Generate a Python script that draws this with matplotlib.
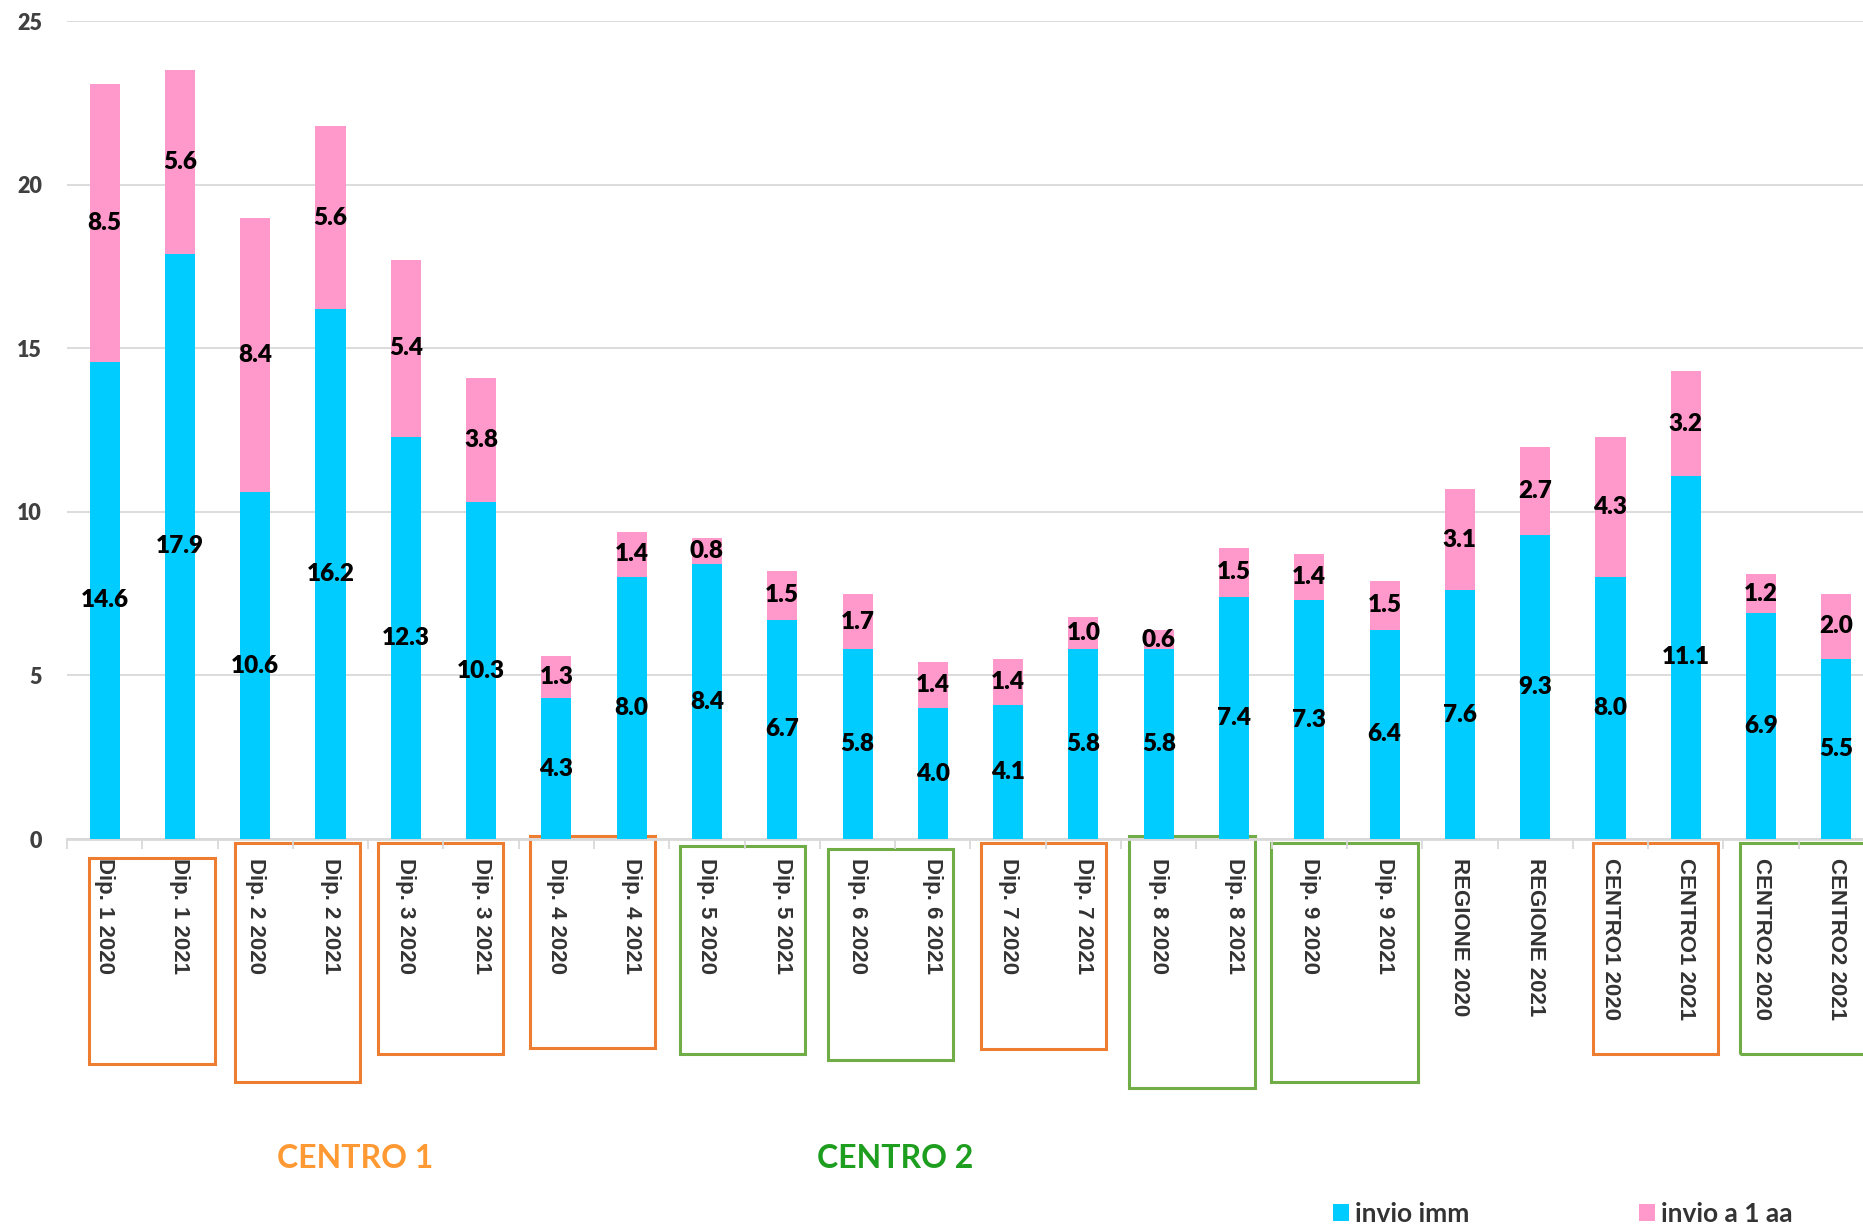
import matplotlib
matplotlib.use('Agg')

import matplotlib.pyplot as plt
import matplotlib.transforms as mtransforms
from matplotlib.patches import Rectangle
import numpy as np

# categories and values
categories = ['Dip. 1 2020', 'Dip. 1 2021', 'Dip. 2 2020', 'Dip. 2 2021',
              'Dip. 3 2020', 'Dip. 3 2021', 'Dip. 4 2020', 'Dip. 4 2021',
              'Dip. 5 2020', 'Dip. 5 2021', 'Dip. 6 2020', 'Dip. 6 2021',
              'Dip. 7 2020', 'Dip. 7 2021', 'Dip. 8 2020', 'Dip. 8 2021',
              'Dip. 9 2020', 'Dip. 9 2021', 'REGIONE 2020', 'REGIONE 2021',
              'CENTRO1 2020', 'CENTRO1 2021', 'CENTRO2 2020', 'CENTRO2 2021']
invio_imm = [14.6, 17.9, 10.6, 16.2, 12.3, 10.3, 4.3, 8.0, 8.4, 6.7, 5.8, 4.0,
             4.1, 5.8, 5.8, 7.4, 7.3, 6.4, 7.6, 9.3, 8.0, 11.1, 6.9, 5.5]
invio_1aa = [8.5, 5.6, 8.4, 5.6, 5.4, 3.8, 1.3, 1.4, 0.8, 1.5, 1.7, 1.4,
             1.4, 1.0, 0.6, 1.5, 1.4, 1.5, 3.1, 2.7, 4.3, 3.2, 1.2, 2.0]
yticks = [0, 5, 10, 15, 20, 25]

# group boxes under the axis: (x from, x to, top px, bottom px, group)
box_x0 = [-0.21, 1.73, 3.63, 5.65, 7.64, 9.61, 11.64, 13.60, 15.49, 19.77, 21.72]
box_x1 = [1.47, 3.39, 5.29, 7.31, 9.30, 11.27, 13.30, 15.28, 17.45, 21.43, 23.5]
box_top = [858, 843, 843, 836, 846, 849, 843, 836, 843, 843, 843]
box_bot = [1064, 1082, 1054, 1048, 1054, 1060, 1049, 1088, 1082, 1054, 1054]
box_grp = [1, 1, 1, 1, 2, 2, 1, 2, 2, 1, 2]

BLUE = '#00CCFF'
PINK = '#FF99CC'
ORANGE = '#ED7D31'
GREEN = '#70AD47'
GRID = '#D9D9D9'

W, H = 1863, 1226
fig = plt.figure(figsize=(W / 100, H / 100), dpi=100)
ax = fig.add_axes([67 / W, 1 - 839 / H, 1807 / W, (839 - 21.4) / H])

x = np.arange(len(categories))
b1 = ax.bar(x, invio_imm, width=0.4, color=BLUE, label='invio imm', zorder=3)
b2 = ax.bar(x, invio_1aa, width=0.4, bottom=invio_imm, color=PINK,
            label='invio a 1 aa', zorder=3)

lab_kw = dict(label_type='center', fmt='%.1f', fontsize=17.5,
              fontweight='heavy', family='Lato', color='black')
ax.bar_label(b1, **lab_kw)
ax.bar_label(b2, **lab_kw)

ax.set_xlim(-0.5, len(categories) - 0.5)
ax.set_ylim(0, 25)
ax.set_yticks(yticks)
ax.yaxis.grid(True, color=GRID, lw=1.3, zorder=0)
ax.tick_params(axis='y', length=0, pad=18, labelsize=15.5, labelcolor='#404040')
for t in ax.get_yticklabels():
    t.set_family('Lato')
    t.set_fontweight('heavy')

ax.set_xticks(x)
ax.set_xticklabels(categories, rotation=270, fontsize=16, fontweight='bold',
                   family='Liberation Sans', color='#333333', va='top', ha='center')
ax.set_xticks(np.arange(len(categories) + 1) - 0.5, minor=True)
ax.tick_params(axis='x', which='major', length=0, pad=14)
ax.tick_params(axis='x', which='minor', length=7, width=1.3, color=GRID)

for s in ['top', 'right', 'left']:
    ax.spines[s].set_visible(False)
ax.spines['bottom'].set_color(GRID)
ax.spines['bottom'].set_linewidth(2)

# boxes round the departments of each centre
trans = mtransforms.blended_transform_factory(ax.transData, fig.transFigure)
for x0, x1, yt, yb, g in zip(box_x0, box_x1, box_top, box_bot, box_grp):
    ax.add_patch(Rectangle((x0, 1 - yb / H), x1 - x0, (yb - yt) / H,
                           transform=trans, fill=False, lw=2.2,
                           edgecolor=ORANGE if g == 1 else GREEN, clip_on=False))

fig.text(355 / W, 1 - 1158 / H, 'CENTRO 1', color='#FF9933', fontsize=23,
         fontweight='bold', family='Lato', ha='center', va='center')
fig.text(895 / W, 1 - 1158 / H, 'CENTRO 2', color='#1E9E1E', fontsize=23,
         fontweight='bold', family='Lato', ha='center', va='center')

leg = ax.legend(loc='center left', bbox_to_anchor=(1333 / W, 1 - 1214 / H),
                bbox_transform=fig.transFigure, ncol=2, frameon=False,
                borderpad=0, borderaxespad=0, handlelength=0.6, handleheight=0.6,
                handletextpad=0.25, columnspacing=6.4,
                prop={'family': 'Lato', 'weight': 'bold', 'size': 19})
for t in leg.get_texts():
    t.set_color('#333333')

fig.savefig('out.png', dpi=100)
